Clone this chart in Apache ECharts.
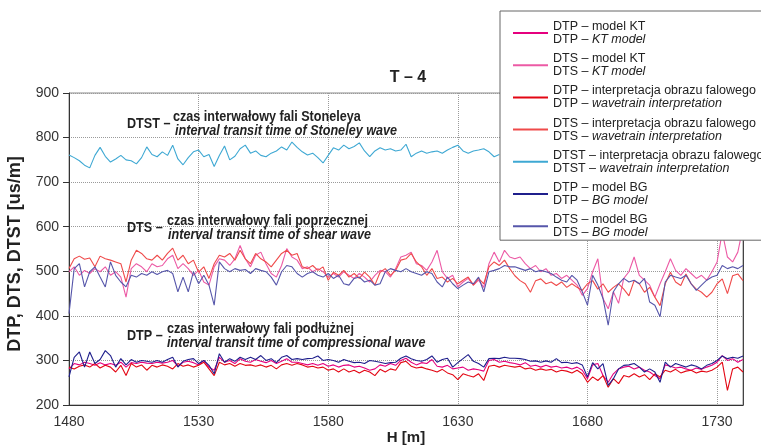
<!DOCTYPE html>
<html>
<head>
<meta charset="utf-8">
<script src="https://cdn.jsdelivr.net/npm/echarts@6/dist/echarts.min.js"></script>
<style>html,body{margin:0;padding:0;background:#fff}#c{width:761px;height:446px}</style>
</head>
<body>
<div id="c"></div>
<script>
// depth sampling (m)
const H_START = 1480;
const H_STEP = 2;

// DTST – wavetrain interpretation (from 1480 m)
const dtstWave = [761,755,748,738,732,760,778,758,745,752,760,750,748,741,755,779,762,757,768,760,783,752,739,755,768,772,757,762,735,760,781,750,758,775,783,765,770,760,757,765,770,779,772,790,778,768,761,765,755,743,760,777,772,783,775,780,788,770,757,770,777,772,775,770,772,785,757,765,770,765,768,770,765,772,778,783,770,765,770,772,775,768,757,762];

// DTS series
const dtsKT = [499,510,491,502,495,506,499,510,491,499,487,442,506,517,510,499,517,510,513,528,536,506,517,506,491,502,476,469,510,528,525,513,528,558,528,510,536,543,517,495,487,513,551,532,
525,506,510,499,506,499,487,495,487,499,491,484,495,487,476,491,502,499,487,506,532,536,543,517,513,502,521,547,499,484,491,465,476,484,469,480,464,517,543,521,547,532,
528,532,517,506,513,499,506,491,495,484,491,480,469,446,461,499,528,439,416,454,428,484,499,532,491,480,469,442,472,499,528,502,491,506,495,484,491,480,499,521,588,532,521,543,599];
const dtsWave = [506,528,534,527,530,510,534,528,525,521,517,476,525,547,540,528,525,536,525,540,552,525,536,517,525,498,510,484,517,536,532,540,525,547,528,517,540,528,521,510,525,540,547,536,
540,510,506,513,502,510,480,498,491,502,487,495,484,498,487,469,498,506,491,502,525,528,540,521,510,491,506,484,487,476,484,472,480,487,469,484,472,510,521,513,525,506,
490,479,472,453,479,483,472,476,468,476,464,472,464,457,472,479,460,472,453,464,472,460,445,479,472,453,464,442,423,472,498,476,468,494,472,460,453,442,453,472,483,450,490,494,479];
const dtsBG = [405,506,517,465,499,510,487,465,521,491,476,465,491,487,495,491,499,493,499,502,495,454,487,454,499,472,491,469,424,521,506,499,506,502,504,495,506,502,499,487,469,499,513,510,
495,487,495,499,491,487,495,484,491,472,469,484,487,476,480,469,472,499,506,502,499,506,499,495,491,499,495,476,465,487,472,461,469,476,472,487,454,499,502,506,513,510,
510,506,502,506,499,502,499,495,487,480,476,491,480,454,424,491,469,439,379,454,472,484,476,480,472,484,431,424,398,476,491,487,484,491,472,457,469,480,487,491,513,506,510,506,513];

// DTP series
const dtpKT = [281,293,290,296,293,289,295,290,293,289,296,285,295,293,296,294,293,296,294,296,300,287,296,298,295,290,300,285,278,307,296,300,293,304,298,296,302,298,295,300,293,298,304,296,
296,293,290,293,289,293,287,290,285,289,290,285,287,283,278,281,290,287,293,289,300,305,296,290,295,293,302,287,285,289,281,283,285,278,281,279,276,300,302,296,298,295,
293,290,295,287,289,285,289,285,287,283,285,281,285,278,259,290,293,266,251,270,281,285,287,281,285,278,274,266,259,290,287,283,285,281,278,283,280,285,289,296,311,300,304,296,302];
const dtpWave = [285,281,287,290,285,293,283,289,285,274,289,266,293,285,290,278,289,285,290,287,281,293,287,290,285,289,296,281,266,296,290,293,287,293,289,290,287,290,285,289,281,290,293,289,
293,290,285,287,283,285,278,281,274,281,274,278,272,278,274,266,280,274,281,278,295,298,287,283,285,281,278,274,280,272,268,257,270,266,263,270,255,287,289,285,289,287,
285,287,281,283,278,281,278,280,274,278,276,272,278,270,251,263,255,266,240,259,248,266,263,270,263,268,257,270,263,278,274,280,272,276,278,272,276,274,278,285,296,233,281,285,274];
const dtpBG = [263,307,319,285,319,293,302,322,311,285,304,290,302,296,300,298,296,300,296,302,307,285,298,302,304,293,300,289,270,315,296,304,298,307,302,307,302,311,300,304,295,307,311,302,
304,302,304,305,310,300,302,300,296,302,298,295,296,293,300,298,296,293,295,296,305,310,304,300,298,302,310,296,302,305,285,295,304,313,298,293,285,304,305,304,307,305,
305,304,302,298,299,296,299,296,304,295,296,293,295,290,263,295,281,293,244,259,281,289,290,293,285,274,281,274,251,296,285,293,289,285,290,287,281,289,293,300,310,304,307,305,310];

// axis ticks
const xTicks = {min: 1480, max: 1740, interval: 50};
const yTicks = {min: 200, max: 900, interval: 100};

// legend texts
const seriesNames = ['DTP – model KT','DTS – model KT','DTP – interpretacja obrazu falowego','DTS – interpretacja obrazu falowego','DTST – interpretacja obrazu falowego','DTP – model BG','DTS – model BG'];
const legendPrefix = ['DTP – ','DTS – ','DTP – ','DTS – ','DTST – ','DTP – ','DTS – '];
const legendItalic = ['KT model','KT model','wavetrain interpretation','wavetrain interpretation','wavetrain interpretation','BG model','BG model'];
const seriesColors = ['#e5007e','#ec5aa5','#e30613','#ef4a4a','#3ea8d3','#1f1f8c','#5656aa'];

const FONT = "'Liberation Sans',Arial,sans-serif";

function pairs(arr){ return arr.map((v,i)=>[H_START + i*H_STEP, v]); }

const seriesData = [dtpKT, dtsKT, dtpWave, dtsWave, dtstWave, dtpBG, dtsBG];
const drawOrder = [4,1,3,6,0,2,5];

const series = drawOrder.map(k => ({
  name: seriesNames[k], type: 'line', data: pairs(seriesData[k]),
  showSymbol: false, symbol: 'none', color: seriesColors[k],
  lineStyle: {width: 1.1, color: seriesColors[k]}, z: 3
}));

const chart = echarts.init(document.getElementById('c'), null, {renderer: 'canvas'});
const SX = 0.9;
const tc = (txt, x, y, font) => ({type:'text', x:x, y:y, z:5, scaleX: SX, style:{text:txt, fill:'#222', font:font, textVerticalAlign:'middle', verticalAlign:'middle'}});
const LF = 12.5;
chart.setOption({
  animation: false,
  backgroundColor: '#fff',
  grid: {left: 69, right: 18, top: 93, bottom: 41, show: true, borderColor: '#8a8a8a', borderWidth: 1, backgroundColor: 'transparent', containLabel: false, outerBoundsMode: 'none'},
  xAxis: {
    type: 'value', min: xTicks.min, max: xTicks.max, interval: xTicks.interval,
    name: 'H [m]', nameLocation: 'middle', nameGap: 25, nameMoveOverlap: false,
    nameTextStyle: {fontFamily: FONT, fontWeight: 'bold', fontSize: 15, color: '#222'},
    axisLine: {show: true, lineStyle: {color: '#333', width: 1}},
    axisTick: {show: false},
    axisLabel: {fontFamily: FONT, fontSize: 14, color: '#333', margin: 10, formatter: v => String(v)},
    splitLine: {show: true, lineStyle: {type: 'dotted', color: '#9a9a9a', width: 1}}
  },
  yAxis: [{
    type: 'value', min: yTicks.min, max: yTicks.max, interval: yTicks.interval,
    name: 'DTP, DTS, DTST [us/m]', nameLocation: 'middle', nameGap: 45, nameMoveOverlap: false,
    nameTextStyle: {fontFamily: FONT, fontWeight: 'bold', fontSize: 18, color: '#222', padding: [0, 10, 0, 0]},
    axisLine: {show: true, lineStyle: {color: '#333', width: 1}},
    axisTick: {show: true, length: 6, lineStyle: {color: '#333'}},
    axisLabel: {fontFamily: FONT, fontSize: 14, color: '#333', margin: 10, formatter: v => String(v)},
    splitLine: {show: true, lineStyle: {type: 'dotted', color: '#9a9a9a', width: 1}}
  },{
    type: 'value', position: 'right', min: yTicks.min, max: yTicks.max, interval: yTicks.interval,
    axisLine: {show: true, lineStyle: {color: '#444', width: 1}},
    axisTick: {show: false}, axisLabel: {show: false}, splitLine: {show: false}
  }],
  legend: {
    orient: 'vertical', left: 500, top: 11, itemWidth: 35, itemHeight: 2, itemGap: 6.2, icon: 'rect',
    backgroundColor: '#fff', borderColor: '#666', borderWidth: 1, padding: [9, 1, 1, 13], z: 10,
    data: seriesNames,
    textStyle: {fontFamily: FONT, fontSize: LF, color: '#222', lineHeight: 13,
      rich: {n: {fontFamily: FONT, fontSize: LF, color: '#222', lineHeight: 13},
             i: {fontFamily: FONT, fontSize: LF, color: '#222', lineHeight: 13, fontStyle: 'italic'}}},
    formatter: function(name){ const k = seriesNames.indexOf(name); return '{n|' + name + '}\n{n|' + legendPrefix[k] + '}{i|' + legendItalic[k] + '}'; }
  },
  graphic: {elements: [
    {type:'text', x:408, y:78, z:5, style:{text:'T – 4', fill:'#222', font:'bold 16px ' + FONT, textAlign:'center', align:'center', textVerticalAlign:'middle', verticalAlign:'middle'}},
    tc('DTST –', 127, 124, 'bold 14px ' + FONT),
    tc('czas interwałowy fali Stoneleya', 173, 117, 'bold 14px ' + FONT),
    tc('interval transit time of Stoneley wave', 175, 131, 'italic bold 14px ' + FONT),
    tc('DTS –', 127, 228, 'bold 14px ' + FONT),
    tc('czas interwałowy fali poprzecznej', 167, 221, 'bold 14px ' + FONT),
    tc('interval transit time of shear wave', 168, 235, 'italic bold 14px ' + FONT),
    tc('DTP –', 127, 336, 'bold 14px ' + FONT),
    tc('czas interwałowy fali podłużnej', 167, 329, 'bold 14px ' + FONT),
    tc('interval transit time of compressional wave', 167, 343, 'italic bold 14px ' + FONT)
  ]},
  series: series
});
</script>
</body>
</html>
